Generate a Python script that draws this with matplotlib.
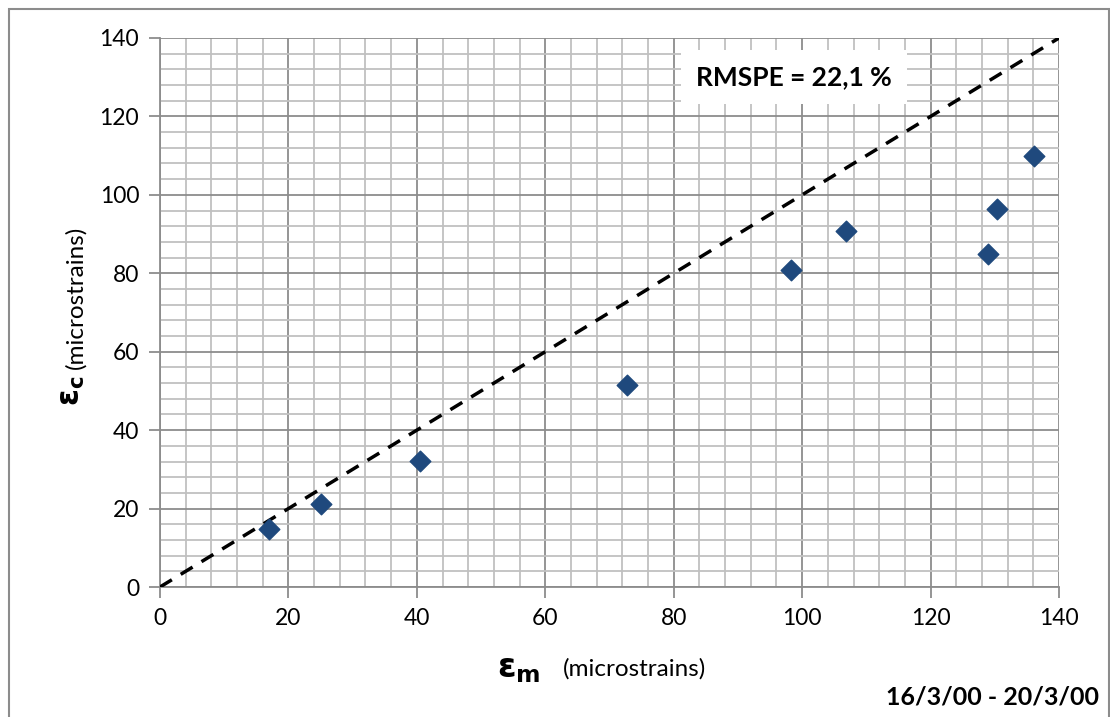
import matplotlib.pyplot as plt
from matplotlib.patches import Rectangle
from matplotlib.ticker import MultipleLocator

plt.rcParams['font.family'] = ['Lato', 'DejaVu Sans']

# measured vs calculated strains
eps_m = [16.9, 25.0, 40.5, 72.7, 98.3, 106.9, 129.0, 130.4, 136.1]
eps_c = [14.7, 21.2, 32.1, 51.4, 80.8, 90.8, 84.9, 96.4, 110.0]
line_x = [0, 140]
line_y = [0, 140]

fig = plt.figure(figsize=(11.1, 7.17), dpi=100)
ax = fig.add_axes([160 / 1110, 1 - 587 / 717, 899 / 1110, 549 / 717])

ax.set_xlim(0, 140)
ax.set_ylim(0, 140)
ax.xaxis.set_major_locator(MultipleLocator(20))
ax.yaxis.set_major_locator(MultipleLocator(20))
ax.xaxis.set_minor_locator(MultipleLocator(4))
ax.yaxis.set_minor_locator(MultipleLocator(4))
ax.grid(which='major', color='#8c8c8c', lw=1.3)
ax.grid(which='minor', color='#c0c0c0', lw=1.3)
ax.set_axisbelow(True)

for s in ['top', 'right']:
    ax.spines[s].set_visible(False)
for s in ['left', 'bottom']:
    ax.spines[s].set_color('#8c8c8c')
    ax.spines[s].set_linewidth(1.3)

ax.tick_params(which='major', length=8, width=1.3, color='#8c8c8c',
               labelsize=16.5, pad=7)
ax.tick_params(which='minor', length=0)

ax.plot(line_x, line_y, ls=(0, (4, 3)), color='black', lw=2.5, zorder=3)
ax.scatter(eps_m, eps_c, marker='D', s=110, color='#1f497d', zorder=4)

ax.text(0.705, 0.929, 'RMSPE = 22,1 %', transform=ax.transAxes,
        fontsize=19, fontweight='bold', ha='center', va='center',
        bbox=dict(facecolor='white', edgecolor='none', pad=11), zorder=5)

fig.text(0.448, 0.055, r'$\mathbf{\varepsilon_m}$', fontsize=24, ha='left', va='baseline')
fig.text(0.507, 0.058, '(microstrains)', fontsize=17.5, ha='left', va='baseline')
fig.text(0.066, 0.455, r'$\mathbf{\varepsilon_c}$', fontsize=22, rotation=90,
         ha='center', va='center')
fig.text(0.068, 0.585, '(microstrains)', fontsize=17.5, rotation=90,
         ha='center', va='center')
fig.text(0.99, 0.018, '16/3/00 - 20/3/00', fontsize=18, fontweight='bold',
         ha='right', va='baseline')

fig.patches.append(Rectangle((9 / 1110, -0.01), 1100 / 1110, 1 - 9 / 717 + 0.01,
                             transform=fig.transFigure, fill=False,
                             edgecolor='#8c8c8c', lw=1.5))

fig.savefig('out.png', dpi=100)
